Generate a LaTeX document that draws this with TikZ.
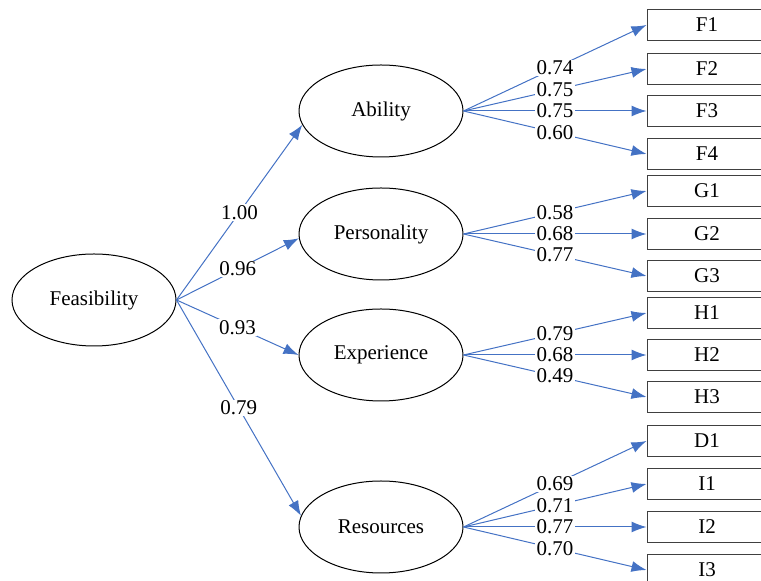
\documentclass[tikz,border=0pt]{standalone}
\usepackage{fontspec}
\setmainfont{Liberation Serif}
\usetikzlibrary{arrows.meta,shapes.geometric}
\definecolor{linkblue}{RGB}{68,114,196}

\begin{document}
\begin{tikzpicture}[x=0.5pt,y=-0.5pt,>={Latex[length=7.5pt,width=5.5pt]},
        factor/.style={draw,ellipse,line width=0.5pt,minimum width=82pt,minimum height=46pt,inner sep=0pt,font=\fontsize{10.5}{12}\selectfont},
        item/.style={draw=black!75,rectangle,line width=0.5pt,minimum width=60pt,minimum height=15.5pt,inner sep=0pt,font=\fontsize{10.5}{12}\selectfont},
        link/.style={->,draw=linkblue,line width=0.5pt},
        coef/.style={fill=white,inner sep=0.6pt,font=\fontsize{10.5}{12}\selectfont}]
        % fix the frame
        \clip (0,0) rectangle (761,581);

        % draw the latent factors
        \node[factor] (feas) at (94,300) {Feasibility};
        \foreach \name/\y/\txt in {abil/111/Ability, pers/234/Personality, expe/355/Experience, reso/527/Resources}
                \node[factor] (\name) at (381,\y) {\txt};

        % draw the observed items
        \foreach \name/\y in {F1/25, F2/69, F3/111, F4/154,
                G1/191, G2/234, G3/276,
                H1/313, H2/355, H3/397,
                D1/441, I1/484, I2/527, I3/570}
                \node[item] (\name) at (707,\y) {\name};

        % second order loadings, aimed at the west side
        \foreach \name/\a/\w in {abil/190/1.00, pers/183/0.96, expe/180/0.93, reso/172/0.79}
                \draw[link] (feas.east) -- node[coef] {\w} (\name.\a);

        % first order loadings
        \foreach \from/\to/\w in {
            abil/F1/0.74, abil/F2/0.75, abil/F3/0.75, abil/F4/0.60,
            pers/G1/0.58, pers/G2/0.68, pers/G3/0.77,
            expe/H1/0.79, expe/H2/0.68, expe/H3/0.49,
            reso/D1/0.69, reso/I1/0.71, reso/I2/0.77, reso/I3/0.70}
                \draw[link] (\from.east) -- node[coef] {\w} (\to.west);
\end{tikzpicture}
\end{document}
